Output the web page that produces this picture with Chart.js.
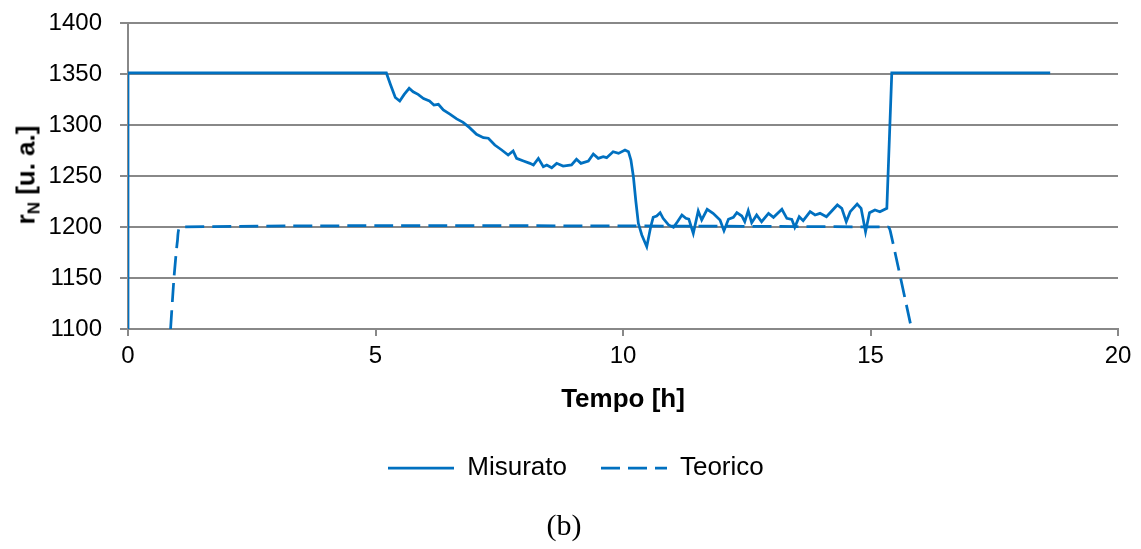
<!DOCTYPE html>
<html>
<head>
<meta charset="utf-8">
<script src="https://cdn.jsdelivr.net/npm/chart.js@4.4.0/dist/chart.umd.min.js"></script>
<style>
  body { margin: 0; background: #fff; }
  #wrap { position: relative; width: 1141px; height: 549px; }
  #yTitle {
    position: absolute; left: 26px; top: 175px;
    transform: translate(-50%, -50%) rotate(-90deg);
    font: bold 26px "Liberation Sans", Arial, sans-serif; white-space: nowrap; color: #000;
  }
  #yTitle sub { font-size: 17px; vertical-align: -5px; line-height: 0; }
  #caption {
    position: absolute; left: 564px; top: 525px; transform: translate(-50%, -50%);
    font: 30px "Liberation Serif", "Times New Roman", serif; color: #000;
  }
</style>
</head>
<body>
<div id="wrap">
  <canvas id="chart" width="1141" height="549"></canvas>
  <div id="yTitle">r<sub>N</sub> [u. a.]</div>
  <div id="caption">(b)</div>
</div>
<script>
// Misurato: tempo [h] e valori
var misuratoOre = [0, 0, 5.22, 5.30, 5.40, 5.49, 5.58, 5.68, 5.76, 5.86, 5.97, 6.09, 6.18, 6.27, 6.37, 6.51, 6.64, 6.77, 6.90, 7.04,
  7.18, 7.28, 7.41, 7.55, 7.68, 7.78, 7.85, 7.99, 8.12, 8.19, 8.29, 8.39, 8.46, 8.56, 8.66, 8.79, 8.96, 9.06, 9.15, 9.30,
  9.40, 9.50, 9.60, 9.67, 9.80, 9.91, 10.04, 10.11, 10.16, 10.21, 10.26, 10.31, 10.38, 10.48, 10.56, 10.61, 10.68, 10.75, 10.81, 10.92,
  11.02, 11.10, 11.19, 11.27, 11.33, 11.42, 11.52, 11.59, 11.70, 11.82, 11.96, 12.04, 12.13, 12.23, 12.30, 12.40, 12.46, 12.53, 12.60, 12.70,
  12.80, 12.94, 13.04, 13.21, 13.31, 13.41, 13.47, 13.56, 13.64, 13.78, 13.88, 13.98, 14.11, 14.33, 14.42, 14.51, 14.59, 14.73, 14.81, 14.90,
  14.98, 15.09, 15.19, 15.33, 15.43, 18.63];
var misuratoValori = [1100, 1351, 1351, 1340, 1327, 1323.5, 1330, 1336, 1332.6, 1330, 1326, 1323.5, 1319.6, 1320.3, 1314.7, 1310.5, 1306, 1302.6, 1297.4, 1290.9,
  1287.6, 1287, 1280.4, 1275.5, 1270.6, 1274.5, 1267.3, 1264.7, 1262.4, 1260.8, 1267.3, 1259.1, 1260.8, 1258.1, 1262.4, 1259.8, 1260.8, 1266.4, 1262.4, 1264.7,
  1271.6, 1267.3, 1269, 1268, 1273.8, 1272.2, 1275.5, 1273.8, 1265.7, 1249.3, 1225, 1203.6, 1192.2, 1180.7, 1200.3, 1209.5, 1210.8, 1214, 1208.5, 1202,
  1199.7, 1205.2, 1211.8, 1208.5, 1207.8, 1193.8, 1215.7, 1206.9, 1217.4, 1213.4, 1206.9, 1196.4, 1207.5, 1209.5, 1214, 1210.8, 1205.2, 1216, 1204.2, 1211.8,
  1205.2, 1213.4, 1209.5, 1217.4, 1208.5, 1207.5, 1199.7, 1210.1, 1206.2, 1215, 1211.8, 1213.4, 1210.1, 1221.6, 1218.3, 1205.2, 1215, 1222.5, 1218.3, 1195.4,
  1214, 1216.7, 1215, 1218.3, 1351, 1351];

// Teorico
var teoricoOre = [0.86, 0.93, 1.00, 1.06, 15.36, 15.40, 15.83];
var teoricoValori = [1100, 1151, 1187, 1200, 1200, 1196, 1100];

var blu = '#0070C0';
var grigio = '#888888';
var font = 'Liberation Sans, Arial, sans-serif';
var tratteggio = [19, 8];

function punti(ore, valori) {
    return ore.map(function (t, i) { return { x: t, y: valori[i] }; });
}

// small canvas used as legend symbol (solid or dashed line)
function simbolo(dash) {
    var c = document.createElement('canvas');
    c.width = 66; c.height = 6;
    var g = c.getContext('2d');
    g.strokeStyle = blu;
    g.lineWidth = 2.75;
    g.setLineDash(dash);
    g.beginPath();
    g.moveTo(0, 3);
    g.lineTo(66, 3);
    g.stroke();
    return c;
}

var ctx = document.getElementById('chart').getContext('2d');
var chart = new Chart(ctx, {
    type: 'line',
    data: {
        datasets: [{
            label: 'Misurato',
            data: punti(misuratoOre, misuratoValori),
            borderColor: blu,
            backgroundColor: blu,
            borderWidth: 2.75,
            pointRadius: 0,
            pointStyle: simbolo([]),
            tension: 0,
            fill: false
        }, {
            label: 'Teorico',
            data: punti(teoricoOre, teoricoValori),
            borderColor: blu,
            backgroundColor: blu,
            borderWidth: 2.75,
            borderDash: tratteggio,
            pointRadius: 0,
            pointStyle: simbolo(tratteggio),
            tension: 0.2,
            fill: false
        }]
    },
    options: {
        responsive: false,
        animation: false,
        layout: { padding: { left: 34, right: 23, top: 23, bottom: 58 } },
        plugins: {
            tooltip: { enabled: false },
            legend: {
                position: 'bottom',
                labels: {
                    usePointStyle: true,
                    pointStyleWidth: 66,
                    padding: 34,
                    color: '#000',
                    font: { family: font, size: 26 }
                }
            }
        },
        scales: {
            x: {
                type: 'linear',
                min: 0,
                max: 20,
                ticks: { stepSize: 5, color: '#000', padding: 6, font: { family: font, size: 24 } },
                grid: { drawOnChartArea: false, drawTicks: true, tickLength: 7, color: grigio, lineWidth: 2 },
                border: { display: true, color: grigio, width: 2 },
                title: {
                    display: true, text: 'Tempo [h]', color: '#000',
                    font: { family: font, size: 26, weight: 'bold' },
                    padding: { top: 0, bottom: 6 }
                },
                afterFit: function (s) { s.height = 92; }
            },
            y: {
                min: 1100,
                max: 1400,
                ticks: {
                    stepSize: 50, color: '#000', padding: 18, font: { family: font, size: 24 },
                    callback: function (v) { return String(v); }
                },
                grid: { color: grigio, lineWidth: 2, tickLength: 8 },
                border: { display: true, color: grigio, width: 2 },
                afterFit: function (s) {
                    s.width = 94;
                    s.paddingTop = 12;
                    s.paddingBottom = 12;
                }
            }
        }
    }
});
</script>
</body>
</html>
